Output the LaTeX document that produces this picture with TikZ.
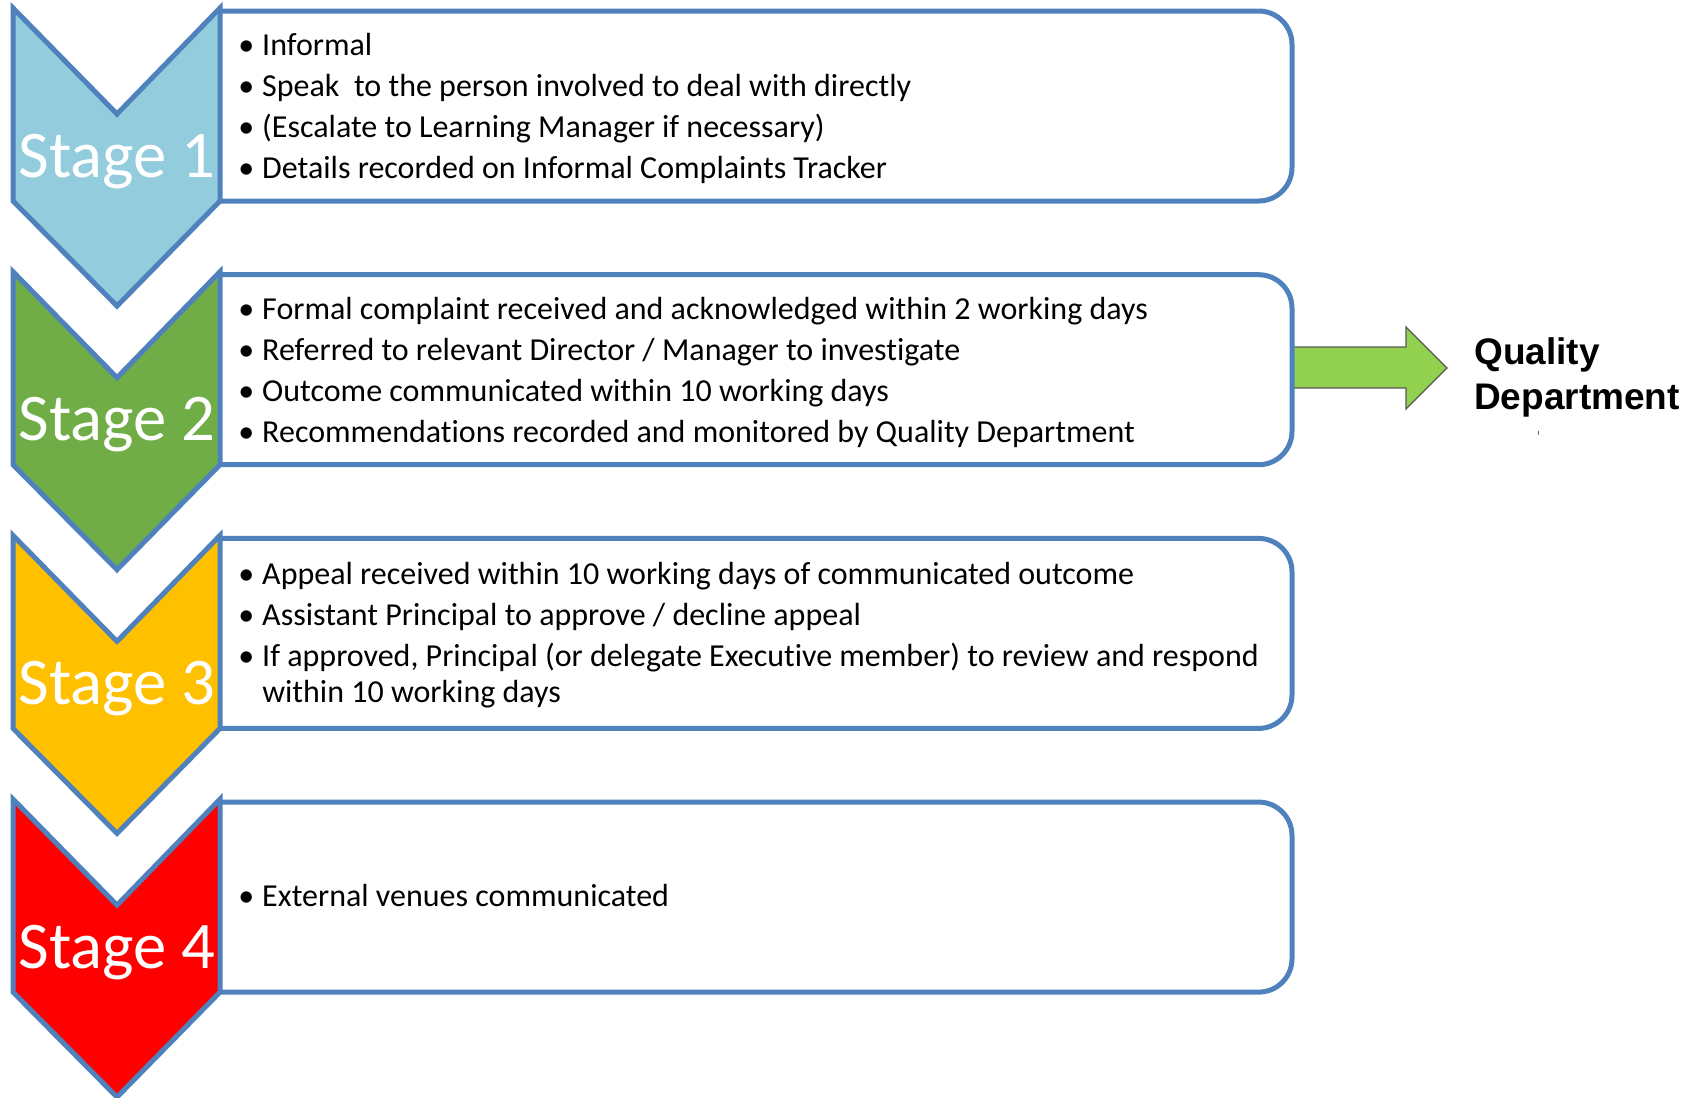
\documentclass[tikz,border=0pt]{standalone}
\usepackage{fontspec}
\setmainfont{Carlito}[Ligatures=NoCommon]
\newfontfamily\qfont{Liberation Sans}
\usetikzlibrary{calc}

\definecolor{edgeblue}{HTML}{4F81BD}
\definecolor{stageA}{HTML}{93CDDD}
\definecolor{stageB}{HTML}{70AD47}
\definecolor{stageC}{HTML}{FFC000}
\definecolor{stageD}{HTML}{FF0000}
\definecolor{arrowgreen}{HTML}{92D050}

% bullet with fixed indent
\newcommand\bl{\makebox[18pt][l]{•}}
\newcommand\blgap{\hspace*{18pt}}

\begin{document}
\begin{tikzpicture}[x=0.75pt,y=-0.75pt,
  chev/.style={draw=edgeblue, line width=3.75pt, line join=miter},
  panel/.style={draw=edgeblue, line width=3.75pt, rounded corners=25pt, fill=white},
  stagelabel/.style={text=white, font=\fontsize{50}{56}\selectfont, anchor=base, inner sep=0pt},
  itemtext/.style={anchor=base west, align=left, inner sep=0pt, font=\fontsize{24}{30.75}\selectfont},
  qarrow/.style={fill=arrowgreen, draw=black!65, line width=1pt, line join=miter},
]
\useasboundingbox (0,0) rectangle (1686,1097);

% arrow from stage 2 to the quality department
\coordinate (b2e) at (1290,368);
\coordinate (atip) at (1447,368);
\draw[qarrow] ($(b2e)+(0,-21)$) -- (1406,347) -- (1406,327) -- (atip)
  -- (1406,409) -- (1406,388) -- ($(b2e)+(0,20)$) -- cycle;

% text panels
\foreach \k in {0,1,2,3}{
  \pgfmathsetmacro\dy{\k*263.7}
  \draw[panel] (220,201+\dy) -- (1292,201+\dy) -- (1292,11+\dy) -- (220,11+\dy);
}

% chevrons with stage labels
\foreach \k/\col in {0/stageA,1/stageB,2/stageC,3/stageD}{
  \pgfmathsetmacro\dy{\k*263.7}
  \pgfmathtruncatemacro\n{\k+1}
  \draw[chev, fill=\col] (13,8+\dy) -- (117,114+\dy) -- (220,8+\dy) -- (220,201+\dy)
    -- (117,306+\dy) -- (13,201+\dy) -- cycle;
  \node[stagelabel] (stage\n) at (117,177+\dy) {Stage \n};
}

% stage contents (anchored at the baseline of the last line)
\node[itemtext] (t1) at (238,178) {\bl Informal\\
  \bl Speak\ \ to the person involved to deal with directly\\
  \bl (Escalate to Learning Manager if necessary)\\
  \bl Details recorded on Informal Complaints Tracker};
\node[itemtext] (t2) at (238,442) {\bl Formal complaint received and acknowledged within 2 working days\\
  \bl Referred to relevant Director / Manager to investigate\\
  \bl Outcome communicated within 10 working days\\
  \bl Recommendations recorded and monitored by Quality Department};
\node[itemtext] (t3) at (238,702) {\bl Appeal received within 10 working days of communicated outcome\\
  \bl Assistant Principal to approve / decline appeal\\
  \bl If approved, Principal (or delegate Executive member) to review and respond\\[-3.75pt]
  \blgap within 10 working days};
\node[itemtext] (t4) at (238,906) {\bl External venues communicated};

% destination label
\node[anchor=base west, align=left, inner sep=0pt,
  font=\qfont\bfseries\fontsize{27.75}{33.75}\selectfont] (qd) at (1474,409) {Quality\\Department};
\draw[black!60, line width=0.6pt] (1538,431) -- (1538,435);
\end{tikzpicture}
\end{document}
